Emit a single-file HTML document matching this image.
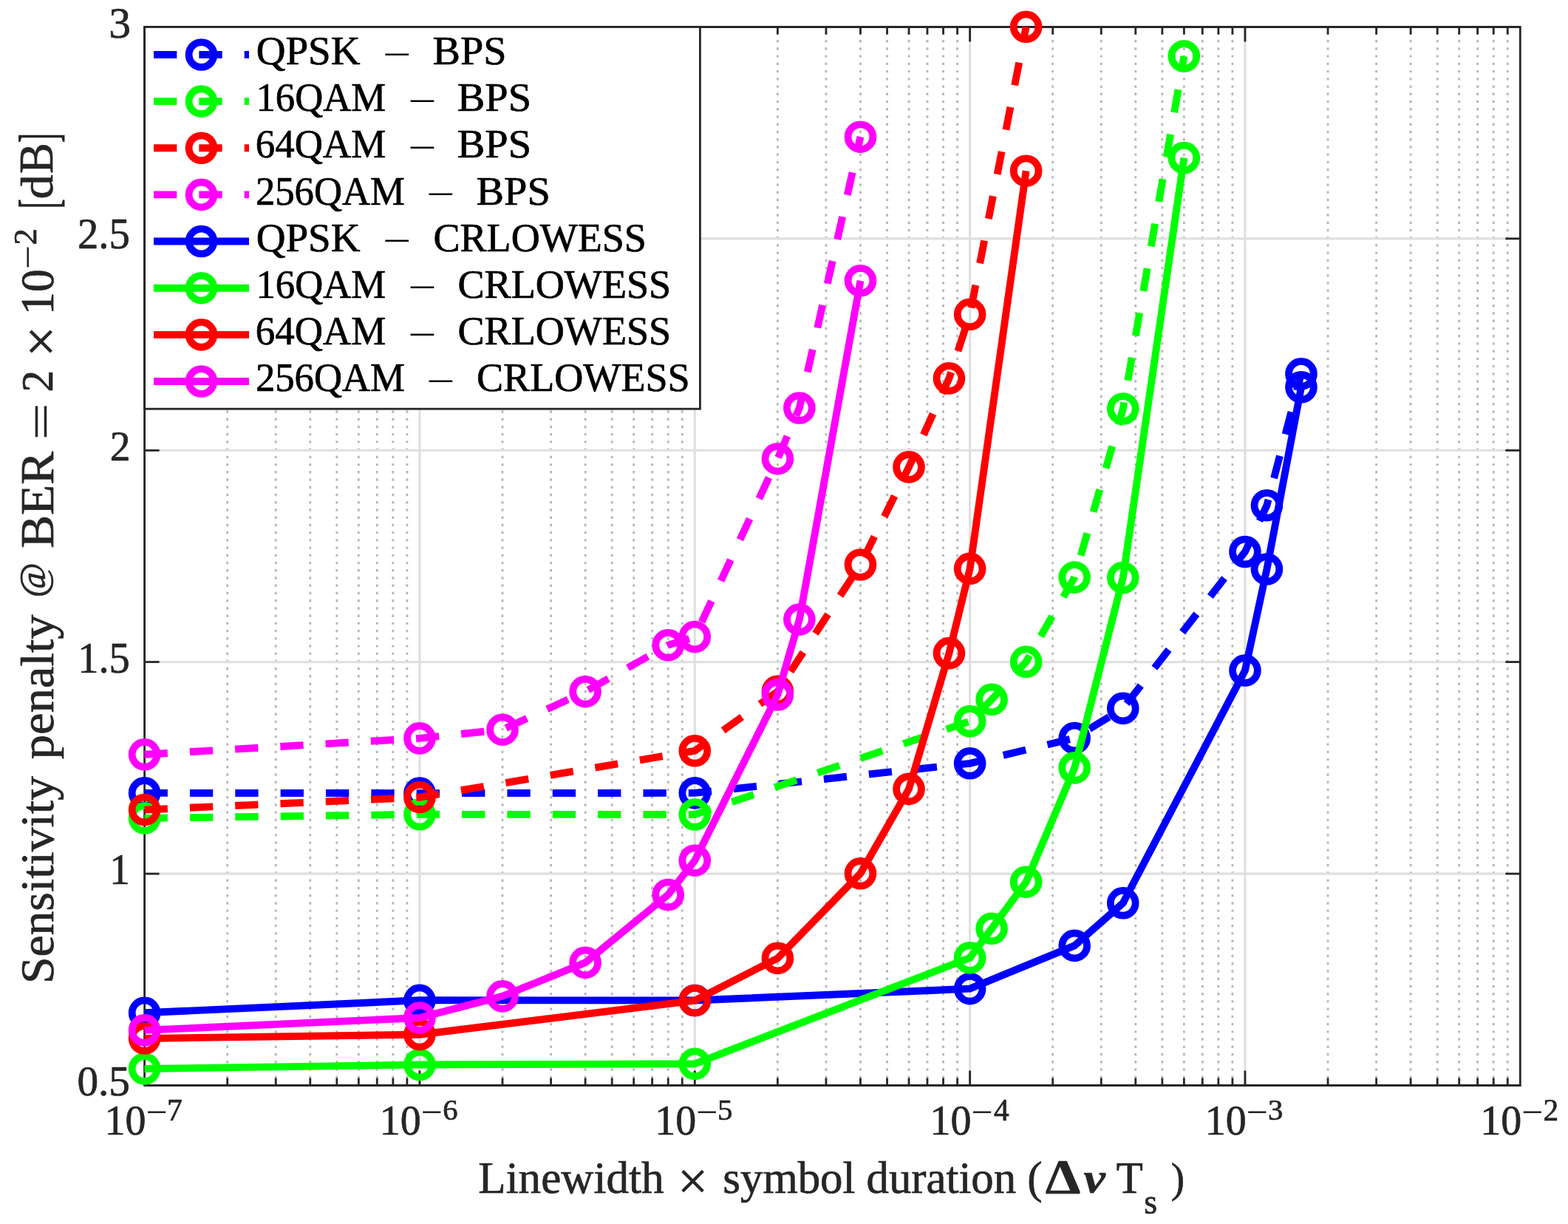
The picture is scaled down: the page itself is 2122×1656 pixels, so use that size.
<!DOCTYPE html><html><head><meta charset="utf-8"><title>Sensitivity penalty vs linewidth</title>
<style>html,body{margin:0;padding:0;background:#fff;overflow:hidden}svg{display:block}text{font-family:"Liberation Serif","Times New Roman",serif}</style></head><body>
<svg width="2122" height="1656" viewBox="0 0 2122 1656">
<rect width="2122" height="1656" fill="#fff"/>
<path d="M307.69 36.5V1468.5M373.25 36.5V1468.5M419.77 36.5V1468.5M455.85 36.5V1468.5M485.34 36.5V1468.5M510.26 36.5V1468.5M531.86 36.5V1468.5M550.9 36.5V1468.5M680.03 36.5V1468.5M745.59 36.5V1468.5M792.11 36.5V1468.5M828.19 36.5V1468.5M857.68 36.5V1468.5M882.6 36.5V1468.5M904.2 36.5V1468.5M923.24 36.5V1468.5M1052.37 36.5V1468.5M1117.93 36.5V1468.5M1164.45 36.5V1468.5M1200.53 36.5V1468.5M1230.02 36.5V1468.5M1254.94 36.5V1468.5M1276.54 36.5V1468.5M1295.58 36.5V1468.5M1424.71 36.5V1468.5M1490.27 36.5V1468.5M1536.79 36.5V1468.5M1572.87 36.5V1468.5M1602.36 36.5V1468.5M1627.28 36.5V1468.5M1648.88 36.5V1468.5M1667.92 36.5V1468.5M1797.05 36.5V1468.5M1862.61 36.5V1468.5M1909.13 36.5V1468.5M1945.21 36.5V1468.5M1974.7 36.5V1468.5M1999.62 36.5V1468.5M2021.22 36.5V1468.5M2040.26 36.5V1468.5" stroke="#b9b9b9" stroke-width="2.9" stroke-dasharray="3.4 6.83" stroke-dashoffset="2.95" fill="none"/>
<path d="M567.94 36.5V1468.5M940.28 36.5V1468.5M1312.62 36.5V1468.5M1684.96 36.5V1468.5M195.6 1182.1H2057.3M195.6 895.7H2057.3M195.6 609.3H2057.3M195.6 322.9H2057.3" stroke="#dfdfdf" stroke-width="3.1" fill="none"/>
<path d="M195.6 36.5H2057.3V1468.5H195.6ZM195.6 1468.5v-20M195.6 36.5v20M567.94 1468.5v-20M567.94 36.5v20M940.28 1468.5v-20M940.28 36.5v20M1312.62 1468.5v-20M1312.62 36.5v20M1684.96 1468.5v-20M1684.96 36.5v20M2057.3 1468.5v-20M2057.3 36.5v20M307.69 1468.5v-10M307.69 36.5v10M373.25 1468.5v-10M373.25 36.5v10M419.77 1468.5v-10M419.77 36.5v10M455.85 1468.5v-10M455.85 36.5v10M485.34 1468.5v-10M485.34 36.5v10M510.26 1468.5v-10M510.26 36.5v10M531.86 1468.5v-10M531.86 36.5v10M550.9 1468.5v-10M550.9 36.5v10M680.03 1468.5v-10M680.03 36.5v10M745.59 1468.5v-10M745.59 36.5v10M792.11 1468.5v-10M792.11 36.5v10M828.19 1468.5v-10M828.19 36.5v10M857.68 1468.5v-10M857.68 36.5v10M882.6 1468.5v-10M882.6 36.5v10M904.2 1468.5v-10M904.2 36.5v10M923.24 1468.5v-10M923.24 36.5v10M1052.37 1468.5v-10M1052.37 36.5v10M1117.93 1468.5v-10M1117.93 36.5v10M1164.45 1468.5v-10M1164.45 36.5v10M1200.53 1468.5v-10M1200.53 36.5v10M1230.02 1468.5v-10M1230.02 36.5v10M1254.94 1468.5v-10M1254.94 36.5v10M1276.54 1468.5v-10M1276.54 36.5v10M1295.58 1468.5v-10M1295.58 36.5v10M1424.71 1468.5v-10M1424.71 36.5v10M1490.27 1468.5v-10M1490.27 36.5v10M1536.79 1468.5v-10M1536.79 36.5v10M1572.87 1468.5v-10M1572.87 36.5v10M1602.36 1468.5v-10M1602.36 36.5v10M1627.28 1468.5v-10M1627.28 36.5v10M1648.88 1468.5v-10M1648.88 36.5v10M1667.92 1468.5v-10M1667.92 36.5v10M1797.05 1468.5v-10M1797.05 36.5v10M1862.61 1468.5v-10M1862.61 36.5v10M1909.13 1468.5v-10M1909.13 36.5v10M1945.21 1468.5v-10M1945.21 36.5v10M1974.7 1468.5v-10M1974.7 36.5v10M1999.62 1468.5v-10M1999.62 36.5v10M2021.22 1468.5v-10M2021.22 36.5v10M2040.26 1468.5v-10M2040.26 36.5v10M195.6 1468.5h20M2057.3 1468.5h-20M195.6 1182.1h20M2057.3 1182.1h-20M195.6 895.7h20M2057.3 895.7h-20M195.6 609.3h20M2057.3 609.3h-20M195.6 322.9h20M2057.3 322.9h-20M195.6 36.5h20M2057.3 36.5h-20" stroke="#262626" stroke-width="2.8" fill="none" stroke-linecap="butt"/>
<g fill="none" stroke-linejoin="miter" stroke-linecap="butt">
<path d="M195.6 1072.9 L567.94 1073.1 L940.28 1072.9 L1312.62 1032.8 L1454.19 998.6 L1519.75 958.4 L1684.96 746.5 L1714.44 683.7 L1760.96 505.8" stroke="#0000ff" stroke-width="9.9" stroke-dasharray="31.3 30.05"/>
<g stroke="#0000ff" stroke-width="9.8"><circle cx="195.6" cy="1072.9" r="16.9"/><circle cx="567.94" cy="1073.1" r="16.9"/><circle cx="940.28" cy="1072.9" r="16.9"/><circle cx="1312.62" cy="1032.8" r="16.9"/><circle cx="1454.19" cy="998.6" r="16.9"/><circle cx="1519.75" cy="958.4" r="16.9"/><circle cx="1684.96" cy="746.5" r="16.9"/><circle cx="1714.44" cy="683.7" r="16.9"/><circle cx="1760.96" cy="505.8" r="16.9"/></g>
<path d="M195.6 1107 L567.94 1101.8 L940.28 1102 L1312.62 975.8 L1342.1 946.4 L1388.62 895.3 L1454.19 781.1 L1519.75 553 L1602.36 76" stroke="#00ff00" stroke-width="9.9" stroke-dasharray="31.3 30.05"/>
<g stroke="#00ff00" stroke-width="9.8"><circle cx="195.6" cy="1107" r="16.9"/><circle cx="567.94" cy="1101.8" r="16.9"/><circle cx="940.28" cy="1102" r="16.9"/><circle cx="1312.62" cy="975.8" r="16.9"/><circle cx="1342.1" cy="946.4" r="16.9"/><circle cx="1388.62" cy="895.3" r="16.9"/><circle cx="1454.19" cy="781.1" r="16.9"/><circle cx="1519.75" cy="553" r="16.9"/><circle cx="1602.36" cy="76" r="16.9"/></g>
<path d="M195.6 1095.6 L567.94 1078.7 L940.28 1015.8 L1052.37 935.4 L1164.45 764 L1230.02 631.9 L1284.43 511.9 L1312.62 425.3 L1388.62 36.3" stroke="#ff0000" stroke-width="9.9" stroke-dasharray="31.3 30.05"/>
<g stroke="#ff0000" stroke-width="9.8"><circle cx="195.6" cy="1095.6" r="16.9"/><circle cx="567.94" cy="1078.7" r="16.9"/><circle cx="940.28" cy="1015.8" r="16.9"/><circle cx="1052.37" cy="935.4" r="16.9"/><circle cx="1164.45" cy="764" r="16.9"/><circle cx="1230.02" cy="631.9" r="16.9"/><circle cx="1284.43" cy="511.9" r="16.9"/><circle cx="1312.62" cy="425.3" r="16.9"/><circle cx="1388.62" cy="36.3" r="16.9"/></g>
<path d="M195.6 1020.8 L567.94 998.9 L680.03 987.2 L792.11 935.7 L904.2 872.9 L940.28 861.6 L1052.37 620.7 L1081.85 552 L1164.45 185.2" stroke="#ff00ff" stroke-width="9.9" stroke-dasharray="31.3 30.05"/>
<g stroke="#ff00ff" stroke-width="9.8"><circle cx="195.6" cy="1020.8" r="16.9"/><circle cx="567.94" cy="998.9" r="16.9"/><circle cx="680.03" cy="987.2" r="16.9"/><circle cx="792.11" cy="935.7" r="16.9"/><circle cx="904.2" cy="872.9" r="16.9"/><circle cx="940.28" cy="861.6" r="16.9"/><circle cx="1052.37" cy="620.7" r="16.9"/><circle cx="1081.85" cy="552" r="16.9"/><circle cx="1164.45" cy="185.2" r="16.9"/></g>
<path d="M195.6 1370.3 L567.94 1353.3 L940.28 1353.5 L1312.62 1337.7 L1454.19 1279.4 L1519.75 1221.8 L1684.96 907.1 L1714.44 770 L1760.96 523.8" stroke="#0000ff" stroke-width="9.9"/>
<g stroke="#0000ff" stroke-width="9.8"><circle cx="195.6" cy="1370.3" r="16.9"/><circle cx="567.94" cy="1353.3" r="16.9"/><circle cx="940.28" cy="1353.5" r="16.9"/><circle cx="1312.62" cy="1337.7" r="16.9"/><circle cx="1454.19" cy="1279.4" r="16.9"/><circle cx="1519.75" cy="1221.8" r="16.9"/><circle cx="1684.96" cy="907.1" r="16.9"/><circle cx="1714.44" cy="770" r="16.9"/><circle cx="1760.96" cy="523.8" r="16.9"/></g>
<path d="M195.6 1446 L567.94 1440.5 L940.28 1439.3 L1312.62 1295.9 L1342.1 1256.3 L1388.62 1193.2 L1454.19 1038.9 L1519.75 781.6 L1602.36 213.6" stroke="#00ff00" stroke-width="9.9"/>
<g stroke="#00ff00" stroke-width="9.8"><circle cx="195.6" cy="1446" r="16.9"/><circle cx="567.94" cy="1440.5" r="16.9"/><circle cx="940.28" cy="1439.3" r="16.9"/><circle cx="1312.62" cy="1295.9" r="16.9"/><circle cx="1342.1" cy="1256.3" r="16.9"/><circle cx="1388.62" cy="1193.2" r="16.9"/><circle cx="1454.19" cy="1038.9" r="16.9"/><circle cx="1519.75" cy="781.6" r="16.9"/><circle cx="1602.36" cy="213.6" r="16.9"/></g>
<path d="M195.6 1405 L567.94 1399.7 L940.28 1353.7 L1052.37 1296.4 L1164.45 1181.8 L1230.02 1067.4 L1284.43 883.8 L1312.62 769.4 L1388.62 231.2" stroke="#ff0000" stroke-width="9.9"/>
<g stroke="#ff0000" stroke-width="9.8"><circle cx="195.6" cy="1405" r="16.9"/><circle cx="567.94" cy="1399.7" r="16.9"/><circle cx="940.28" cy="1353.7" r="16.9"/><circle cx="1052.37" cy="1296.4" r="16.9"/><circle cx="1164.45" cy="1181.8" r="16.9"/><circle cx="1230.02" cy="1067.4" r="16.9"/><circle cx="1284.43" cy="883.8" r="16.9"/><circle cx="1312.62" cy="769.4" r="16.9"/><circle cx="1388.62" cy="231.2" r="16.9"/></g>
<path d="M195.6 1393.9 L567.94 1377 L680.03 1347.9 L792.11 1302.4 L904.2 1210.5 L940.28 1164.2 L1052.37 940 L1081.85 838.1 L1164.45 379.8" stroke="#ff00ff" stroke-width="9.9"/>
<g stroke="#ff00ff" stroke-width="9.8"><circle cx="195.6" cy="1393.9" r="16.9"/><circle cx="567.94" cy="1377" r="16.9"/><circle cx="680.03" cy="1347.9" r="16.9"/><circle cx="792.11" cy="1302.4" r="16.9"/><circle cx="904.2" cy="1210.5" r="16.9"/><circle cx="940.28" cy="1164.2" r="16.9"/><circle cx="1052.37" cy="940" r="16.9"/><circle cx="1081.85" cy="838.1" r="16.9"/><circle cx="1164.45" cy="379.8" r="16.9"/></g>
</g>
<rect x="195.6" y="36.5" width="751.8" height="516.7" fill="#fff" stroke="#262626" stroke-width="2.8"/>
<path d="M208 74H337" stroke="#0000ff" stroke-width="9.9" fill="none" stroke-dasharray="31.3 30.05"/>
<circle cx="272.5" cy="74" r="16.9" fill="none" stroke="#0000ff" stroke-width="9.8"/>
<path d="M208 137.14H337" stroke="#00ff00" stroke-width="9.9" fill="none" stroke-dasharray="31.3 30.05"/>
<circle cx="272.5" cy="137.14" r="16.9" fill="none" stroke="#00ff00" stroke-width="9.8"/>
<path d="M208 200.28H337" stroke="#ff0000" stroke-width="9.9" fill="none" stroke-dasharray="31.3 30.05"/>
<circle cx="272.5" cy="200.28" r="16.9" fill="none" stroke="#ff0000" stroke-width="9.8"/>
<path d="M208 263.42H337" stroke="#ff00ff" stroke-width="9.9" fill="none" stroke-dasharray="31.3 30.05"/>
<circle cx="272.5" cy="263.42" r="16.9" fill="none" stroke="#ff00ff" stroke-width="9.8"/>
<path d="M208 326.56H337" stroke="#0000ff" stroke-width="9.9" fill="none"/>
<circle cx="272.5" cy="326.56" r="16.9" fill="none" stroke="#0000ff" stroke-width="9.8"/>
<path d="M208 389.7H337" stroke="#00ff00" stroke-width="9.9" fill="none"/>
<circle cx="272.5" cy="389.7" r="16.9" fill="none" stroke="#00ff00" stroke-width="9.8"/>
<path d="M208 452.84H337" stroke="#ff0000" stroke-width="9.9" fill="none"/>
<circle cx="272.5" cy="452.84" r="16.9" fill="none" stroke="#ff0000" stroke-width="9.8"/>
<path d="M208 515.98H337" stroke="#ff00ff" stroke-width="9.9" fill="none"/>
<circle cx="272.5" cy="515.98" r="16.9" fill="none" stroke="#ff00ff" stroke-width="9.8"/>
<text transform="matrix(0.5513 0 0 0.5420 346.64 87.2)" font-size="100" font-weight="normal" font-style="normal" fill="#000" stroke="#000" stroke-width="1.2805">QPSK</text>
<text transform="matrix(0.6817 0 0 0.5200 517.79 90.76)" font-size="100" font-weight="normal" font-style="normal" fill="#000">−</text>
<text transform="matrix(0.5627 0 0 0.5420 585.56 87.2)" font-size="100" font-weight="normal" font-style="normal" fill="#000" stroke="#000" stroke-width="1.2673">BPS</text>
<text transform="matrix(0.5272 0 0 0.5420 346.51 150.34)" font-size="100" font-weight="normal" font-style="normal" fill="#000" stroke="#000" stroke-width="1.3094">16QAM</text>
<text transform="matrix(0.6817 0 0 0.5200 551.89 153.9)" font-size="100" font-weight="normal" font-style="normal" fill="#000">−</text>
<text transform="matrix(0.5639 0 0 0.5420 618.76 150.34)" font-size="100" font-weight="normal" font-style="normal" fill="#000" stroke="#000" stroke-width="1.2659">BPS</text>
<text transform="matrix(0.5291 0 0 0.5420 345.87 213.48)" font-size="100" font-weight="normal" font-style="normal" fill="#000" stroke="#000" stroke-width="1.3070">64QAM</text>
<text transform="matrix(0.6817 0 0 0.5200 551.89 217.04)" font-size="100" font-weight="normal" font-style="normal" fill="#000">−</text>
<text transform="matrix(0.5639 0 0 0.5420 618.76 213.48)" font-size="100" font-weight="normal" font-style="normal" fill="#000" stroke="#000" stroke-width="1.2659">BPS</text>
<text transform="matrix(0.5271 0 0 0.5420 345.88 276.62)" font-size="100" font-weight="normal" font-style="normal" fill="#000" stroke="#000" stroke-width="1.3095">256QAM</text>
<text transform="matrix(0.6796 0 0 0.5200 577.1 280.18)" font-size="100" font-weight="normal" font-style="normal" fill="#000">−</text>
<text transform="matrix(0.5639 0 0 0.5420 644.46 276.62)" font-size="100" font-weight="normal" font-style="normal" fill="#000" stroke="#000" stroke-width="1.2659">BPS</text>
<text transform="matrix(0.5513 0 0 0.5420 346.64 339.76)" font-size="100" font-weight="normal" font-style="normal" fill="#000" stroke="#000" stroke-width="1.2805">QPSK</text>
<text transform="matrix(0.6817 0 0 0.5200 517.79 343.32)" font-size="100" font-weight="normal" font-style="normal" fill="#000">−</text>
<text transform="matrix(0.5408 0 0 0.5420 586.49 339.76)" font-size="100" font-weight="normal" font-style="normal" fill="#000" stroke="#000" stroke-width="1.2930">CRLOWESS</text>
<text transform="matrix(0.5272 0 0 0.5420 346.51 402.9)" font-size="100" font-weight="normal" font-style="normal" fill="#000" stroke="#000" stroke-width="1.3094">16QAM</text>
<text transform="matrix(0.6817 0 0 0.5200 551.89 406.46)" font-size="100" font-weight="normal" font-style="normal" fill="#000">−</text>
<text transform="matrix(0.5415 0 0 0.5420 619.48 402.9)" font-size="100" font-weight="normal" font-style="normal" fill="#000" stroke="#000" stroke-width="1.2921">CRLOWESS</text>
<text transform="matrix(0.5291 0 0 0.5420 345.87 466.04)" font-size="100" font-weight="normal" font-style="normal" fill="#000" stroke="#000" stroke-width="1.3070">64QAM</text>
<text transform="matrix(0.6817 0 0 0.5200 551.89 469.6)" font-size="100" font-weight="normal" font-style="normal" fill="#000">−</text>
<text transform="matrix(0.5415 0 0 0.5420 619.48 466.04)" font-size="100" font-weight="normal" font-style="normal" fill="#000" stroke="#000" stroke-width="1.2921">CRLOWESS</text>
<text transform="matrix(0.5271 0 0 0.5420 345.88 529.18)" font-size="100" font-weight="normal" font-style="normal" fill="#000" stroke="#000" stroke-width="1.3095">256QAM</text>
<text transform="matrix(0.6796 0 0 0.5200 577.1 532.74)" font-size="100" font-weight="normal" font-style="normal" fill="#000">−</text>
<text transform="matrix(0.5415 0 0 0.5420 644.98 529.18)" font-size="100" font-weight="normal" font-style="normal" fill="#000" stroke="#000" stroke-width="1.2921">CRLOWESS</text>
<text transform="matrix(0.5976 0 0 0.5866 147.16 50.86)" font-size="100" font-weight="normal" font-style="normal" fill="#262626" stroke="#262626" stroke-width="1.1823">3</text>
<text transform="matrix(0.5657 0 0 0.5852 105 336.17)" font-size="100" font-weight="normal" font-style="normal" fill="#262626" stroke="#262626" stroke-width="1.2165">2.5</text>
<text transform="matrix(0.5550 0 0 0.5636 148.75 622.95)" font-size="100" font-weight="normal" font-style="normal" fill="#262626" stroke="#262626" stroke-width="1.2515">2</text>
<text transform="matrix(0.5643 0 0 0.5837 105.17 909.67)" font-size="100" font-weight="normal" font-style="normal" fill="#262626" stroke="#262626" stroke-width="1.2195">1.5</text>
<text transform="matrix(0.5514 0 0 0.5818 148.29 1195.55)" font-size="100" font-weight="normal" font-style="normal" fill="#262626" stroke="#262626" stroke-width="1.2354">1</text>
<text transform="matrix(0.5718 0 0 0.5721 104.46 1481.99)" font-size="100" font-weight="normal" font-style="normal" fill="#262626" stroke="#262626" stroke-width="1.2239">0.5</text>
<text transform="matrix(0.5598 0 0 0.5630 141.51 1534.69)" font-size="100" font-weight="normal" font-style="normal" fill="#262626" stroke="#262626" stroke-width="1.2470">10</text>
<text transform="matrix(0.5204 0 0 0.5200 197.2 1521.96)" font-size="100" font-weight="normal" font-style="normal" fill="#262626">−</text>
<text transform="matrix(0.4168 0 0 0.4168 226.04 1515.75)" font-size="100" font-weight="normal" font-style="normal" fill="#262626" stroke="#262626" stroke-width="1.6795">7</text>
<text transform="matrix(0.5598 0 0 0.5630 513.85 1534.69)" font-size="100" font-weight="normal" font-style="normal" fill="#262626" stroke="#262626" stroke-width="1.2470">10</text>
<text transform="matrix(0.5204 0 0 0.5200 569.54 1521.96)" font-size="100" font-weight="normal" font-style="normal" fill="#262626">−</text>
<text transform="matrix(0.4075 0 0 0.4075 599.26 1515.34)" font-size="100" font-weight="normal" font-style="normal" fill="#262626" stroke="#262626" stroke-width="1.7179">6</text>
<text transform="matrix(0.5598 0 0 0.5630 886.19 1534.69)" font-size="100" font-weight="normal" font-style="normal" fill="#262626" stroke="#262626" stroke-width="1.2470">10</text>
<text transform="matrix(0.5204 0 0 0.5200 941.88 1521.96)" font-size="100" font-weight="normal" font-style="normal" fill="#262626">−</text>
<text transform="matrix(0.4105 0 0 0.4105 970.97 1515.34)" font-size="100" font-weight="normal" font-style="normal" fill="#262626" stroke="#262626" stroke-width="1.7051">5</text>
<text transform="matrix(0.5598 0 0 0.5630 1258.53 1534.69)" font-size="100" font-weight="normal" font-style="normal" fill="#262626" stroke="#262626" stroke-width="1.2470">10</text>
<text transform="matrix(0.5204 0 0 0.5200 1314.22 1521.96)" font-size="100" font-weight="normal" font-style="normal" fill="#262626">−</text>
<text transform="matrix(0.4136 0 0 0.4136 1344.94 1515.75)" font-size="100" font-weight="normal" font-style="normal" fill="#262626" stroke="#262626" stroke-width="1.6923">4</text>
<text transform="matrix(0.5598 0 0 0.5630 1630.87 1534.69)" font-size="100" font-weight="normal" font-style="normal" fill="#262626" stroke="#262626" stroke-width="1.2470">10</text>
<text transform="matrix(0.5204 0 0 0.5200 1686.56 1521.96)" font-size="100" font-weight="normal" font-style="normal" fill="#262626">−</text>
<text transform="matrix(0.4075 0 0 0.4075 1716.07 1515.34)" font-size="100" font-weight="normal" font-style="normal" fill="#262626" stroke="#262626" stroke-width="1.7179">3</text>
<text transform="matrix(0.5598 0 0 0.5630 2003.21 1534.69)" font-size="100" font-weight="normal" font-style="normal" fill="#262626" stroke="#262626" stroke-width="1.2470">10</text>
<text transform="matrix(0.5204 0 0 0.5200 2058.9 1521.96)" font-size="100" font-weight="normal" font-style="normal" fill="#262626">−</text>
<text transform="matrix(0.4136 0 0 0.4136 2088.59 1515.75)" font-size="100" font-weight="normal" font-style="normal" fill="#262626" stroke="#262626" stroke-width="1.6923">2</text>
<text transform="matrix(0.6111 0 0 0.6153 647.32 1614.2)" font-size="100" font-weight="normal" font-style="normal" fill="#262626" stroke="#262626" stroke-width="1.1416">Linewidth</text>
<text transform="matrix(0.7284 0 0 0.7136 917.02 1622.33)" font-size="100" font-weight="normal" font-style="normal" fill="#262626" stroke="#262626" stroke-width="0.9709">×</text>
<text transform="matrix(0.6081 0 0 0.6153 978.32 1614.2)" font-size="100" font-weight="normal" font-style="normal" fill="#262626" stroke="#262626" stroke-width="1.1444">symbol duration (</text>
<text transform="matrix(0.7597 0 0 0.6636 1414.71 1614.05)" font-size="100" font-weight="bold" font-style="normal" fill="#262626" stroke="#262626" stroke-width="0.9836">Δ</text>
<text transform="matrix(0.6607 0 0 0.5681 1466.59 1613.48)" font-size="100" font-weight="bold" font-style="italic" fill="#262626" stroke="#262626" stroke-width="1.1394">ν</text>
<text transform="matrix(0.5896 0 0 0.6046 1510.67 1613.85)" font-size="100" font-weight="normal" font-style="normal" fill="#262626" stroke="#262626" stroke-width="1.1724">T</text>
<text transform="matrix(0.4603 0 0 0.4750 1548.31 1642.08)" font-size="100" font-weight="normal" font-style="normal" fill="#262626" stroke="#262626" stroke-width="1.4968">s</text>
<text transform="matrix(0.5500 0 0 0.5644 1584.7 1612.5)" font-size="100" font-weight="normal" font-style="normal" fill="#262626" stroke="#262626" stroke-width="1.2562">)</text>
<text transform="matrix(0 -0.6568 0.6400 0 72 1331.12)" font-size="100" fill="#262626" stroke="#262626" stroke-width="1.0796">Sensitivity</text>
<text transform="matrix(0 -0.6653 0.6400 0 72 1027.35)" font-size="100" fill="#262626" stroke="#262626" stroke-width="1.0726">penalty</text>
<text transform="matrix(0 -0.6742 0.6400 0 72 741.87)" font-size="100" fill="#262626" stroke="#262626" stroke-width="1.0653">BER</text>
<text transform="matrix(0 -0.5141 0.5064 0 61.23 808.48)" font-size="100" fill="#262626" stroke="#262626" stroke-width="1.3718">@</text>
<text transform="matrix(0 -0.8817 0.5840 0 74.92 595.36)" font-size="100" fill="#262626" stroke="#262626" stroke-width="0.9552">=</text>
<text transform="matrix(0 -0.5925 0.6227 0 70.55 530.62)" font-size="100" fill="#262626" stroke="#262626" stroke-width="1.1520">2</text>
<text transform="matrix(0 -0.7358 0.7457 0 80.24 482.74)" font-size="100" fill="#262626" stroke="#262626" stroke-width="0.9450">×</text>
<text transform="matrix(0 -0.6172 0.6385 0 71.71 425.91)" font-size="100" fill="#262626" stroke="#262626" stroke-width="1.1149">10</text>
<text transform="matrix(0 -0.3818 0.7470 0 76.57 282.01)" font-size="100" fill="#262626" stroke="#262626" stroke-width="1.2402">[</text>
<text transform="matrix(0 -0.6659 0.6071 0 70.94 269.38)" font-size="100" fill="#262626" stroke="#262626" stroke-width="1.0997">d</text>
<text transform="matrix(0 -0.6271 0.6485 0 70.93 234.93)" font-size="100" fill="#262626" stroke="#262626" stroke-width="1.0975">B</text>
<text transform="matrix(0 -0.3733 0.7470 0 76.57 192.86)" font-size="100" fill="#262626" stroke="#262626" stroke-width="1.2496">]</text>
<text transform="matrix(0 -0.5785 0.5200 0 55.06 364.39)" font-size="100" fill="#262626">−</text>
<text transform="matrix(0 -0.4475 0.4485 0 48.95 331.46)" font-size="100" fill="#262626" stroke="#262626" stroke-width="1.5625">2</text>
</svg></body></html>
